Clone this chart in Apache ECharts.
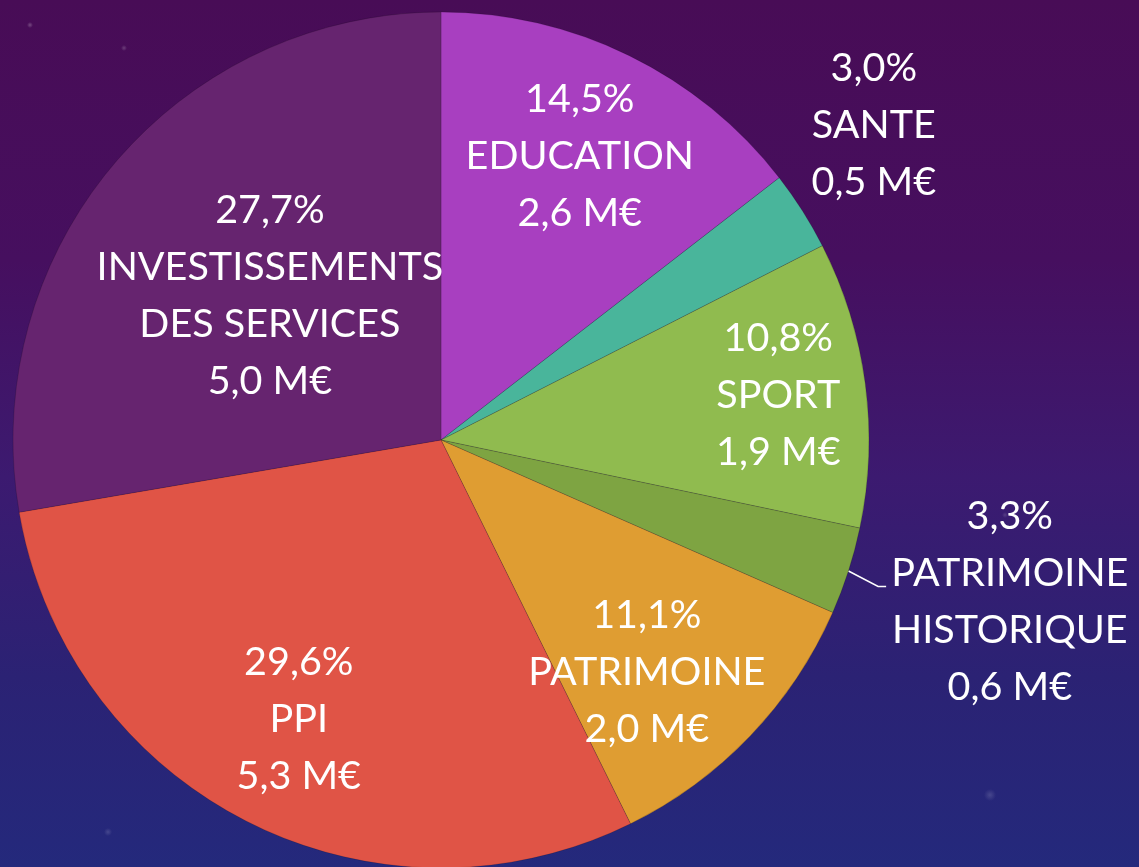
<!DOCTYPE html>
<html lang="fr">
<head>
    <meta charset="UTF-8">
    <title>Répartition des investissements</title>
    <script src="https://cdn.jsdelivr.net/npm/echarts@6/dist/echarts.min.js"></script>
    <style>
        html, body { margin: 0; padding: 0; }
        body {
            width: 1139px; height: 867px; overflow: hidden;
            background:
                radial-gradient(circle at 30px 25px, rgba(255,255,255,0.25) 0, rgba(255,255,255,0) 3px),
                radial-gradient(circle at 124px 48px, rgba(255,255,255,0.2) 0, rgba(255,255,255,0) 3px),
                radial-gradient(circle at 1005px 515px, rgba(255,255,255,0.15) 0, rgba(255,255,255,0) 3px),
                radial-gradient(circle at 990px 795px, rgba(255,255,255,0.15) 0, rgba(255,255,255,0) 6px),
                radial-gradient(circle at 108px 832px, rgba(255,255,255,0.15) 0, rgba(255,255,255,0) 4px),
                linear-gradient(to bottom, #480c56 0%, #460f5f 30%, #3c1a70 55%, #2b2274 78%, #24297c 100%);
        }
    </style>
</head>
<body>
<div id="chart" style="width: 1139px;height:867px"></div>
<script>
    // données
    var categories = ['EDUCATION', 'SANTE', 'SPORT', 'PATRIMOINE\nHISTORIQUE', 'PATRIMOINE', 'PPI', 'INVESTISSEMENTS\nDES SERVICES'];
    var shares = [14.5, 3.0, 10.8, 3.3, 11.1, 29.6, 27.7];   // %
    var amounts = [2.6, 0.5, 1.9, 0.6, 2.0, 5.3, 5.0];      // M€

    var colors = ['#a83fc0', '#49b59b', '#90bb4f', '#7ea442', '#df9d32', '#e05446', '#66246f'];

    // placement des étiquettes : fraction du rayon et petit décalage d'angle (degrés)
    var labelRadius = [0.737, 1.25, 0.795, 1.382, 0.725, 0.732, 0.523];
    var labelTurn = [0, -3.6, 0, -1.9, 4.7, 0, 0];
    var outsideItems = [1, 3];

    var cx = 441, cy = 440, R = 428;

    function fr(v) { return v.toFixed(1).replace('.', ','); }

    var total = shares.reduce(function (a, b) { return a + b; }, 0);
    function midAngle(i) {
        var before = 0;
        for (var k = 0; k < i; k++) before += shares[k];
        return (before + shares[i] / 2) / total * 360;
    }
    function polar(r, deg) {
        var a = deg * Math.PI / 180;
        return [cx + r * Math.sin(a), cy - r * Math.cos(a)];
    }

    var data = categories.map(function (name, i) {
        var outside = outsideItems.indexOf(i) >= 0;
        return {
            name: name,
            value: shares[i],
            itemStyle: { color: colors[i] },
            label: { position: outside ? 'outside' : 'inside' },
            labelLine: { show: i === 3 }
        };
    });

    var myChart = echarts.init(document.getElementById('chart'), null, { renderer: 'canvas' });

    var option = {
        backgroundColor: 'transparent',
        animation: false,
        series: [{
            type: 'pie',
            center: [cx, cy],
            radius: R,
            startAngle: 90,
            clockwise: true,
            avoidLabelOverlap: false,
            itemStyle: {
                borderColor: 'rgba(0,0,0,0.15)',
                borderWidth: 1
            },
            label: {
                color: '#ffffff',
                fontFamily: 'Lato',
                fontSize: 39.5,
                lineHeight: 57,
                align: 'center',
                formatter: function (p) {
                    var i = p.dataIndex;
                    return fr(shares[i]) + '%\n' + categories[i] + '\n' + fr(amounts[i]) + ' M€';
                }
            },
            labelLine: {
                lineStyle: { color: '#ffffff', width: 1.5 }
            },
            labelLayout: function (params) {
                var i = params.dataIndex;
                var mid = midAngle(i);
                var p = polar(R * labelRadius[i], mid + labelTurn[i]);
                var res = { x: p[0], y: p[1], align: 'center', verticalAlign: 'middle' };
                if (i === 3) {
                    var a = polar(R, mid);
                    var b = polar(R + 33, mid + 0.7);
                    res.labelLinePoints = [a, b, [b[0] + 8, b[1]]];
                }
                return res;
            },
            data: data
        }]
    };

    option && myChart.setOption(option);
</script>
</body>
</html>
